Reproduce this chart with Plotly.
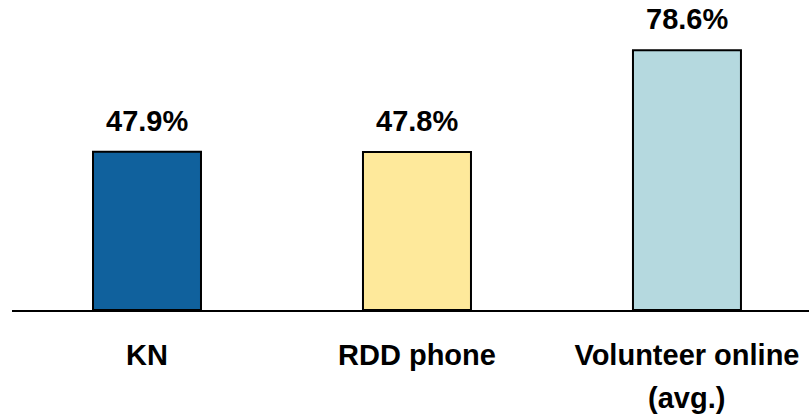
import plotly.graph_objects as go

categories = ["KN", "RDD phone", "Volunteer online"]
sub_labels = ["", "", "(avg.)"]
values = [47.9, 47.8, 78.6]
labels = ["47.9%", "47.8%", "78.6%"]
colors = ["#10619D", "#FEE99B", "#B5D9DF"]

FONT = "Liberation Sans, Arial, sans-serif"
FS = 29

fig = go.Figure()
fig.add_trace(go.Bar(
    x=list(range(len(categories))),
    y=values,
    width=0.4,
    marker=dict(color=colors, line=dict(color="black", width=2)),
    hoverinfo="skip",
))

for i, (v, t) in enumerate(zip(values, labels)):
    fig.add_annotation(
        x=i, y=v, text="<b>%s</b>" % t, showarrow=False,
        yanchor="bottom", yshift=13,
        font=dict(family=FONT, size=FS, color="black"),
    )

for i, s in enumerate(sub_labels):
    if s:
        fig.add_annotation(
            x=i, xref="x", y=0, yref="paper", text="<b>%s</b>" % s,
            showarrow=False, yanchor="top", yshift=-70,
            font=dict(family=FONT, size=FS, color="black"),
        )

fig.update_layout(
    width=809, height=415,
    margin=dict(l=12, r=0, t=0, b=105),
    paper_bgcolor="white", plot_bgcolor="white",
    showlegend=False,
    font=dict(family=FONT, size=FS, color="black"),
    xaxis=dict(
        range=[-0.5, 2.452],
        tickvals=list(range(len(categories))),
        ticktext=["<b>%s</b>" % c for c in categories],
        showline=True, linecolor="black", linewidth=2,
        ticks="outside", ticklen=18, tickcolor="rgba(0,0,0,0)",
        showgrid=False, zeroline=False,
        tickfont=dict(family=FONT, size=FS, color="black"),
    ),
    yaxis=dict(range=[0, 93.8], visible=False, showgrid=False, zeroline=False),
)

fig.write_html("out.html")
